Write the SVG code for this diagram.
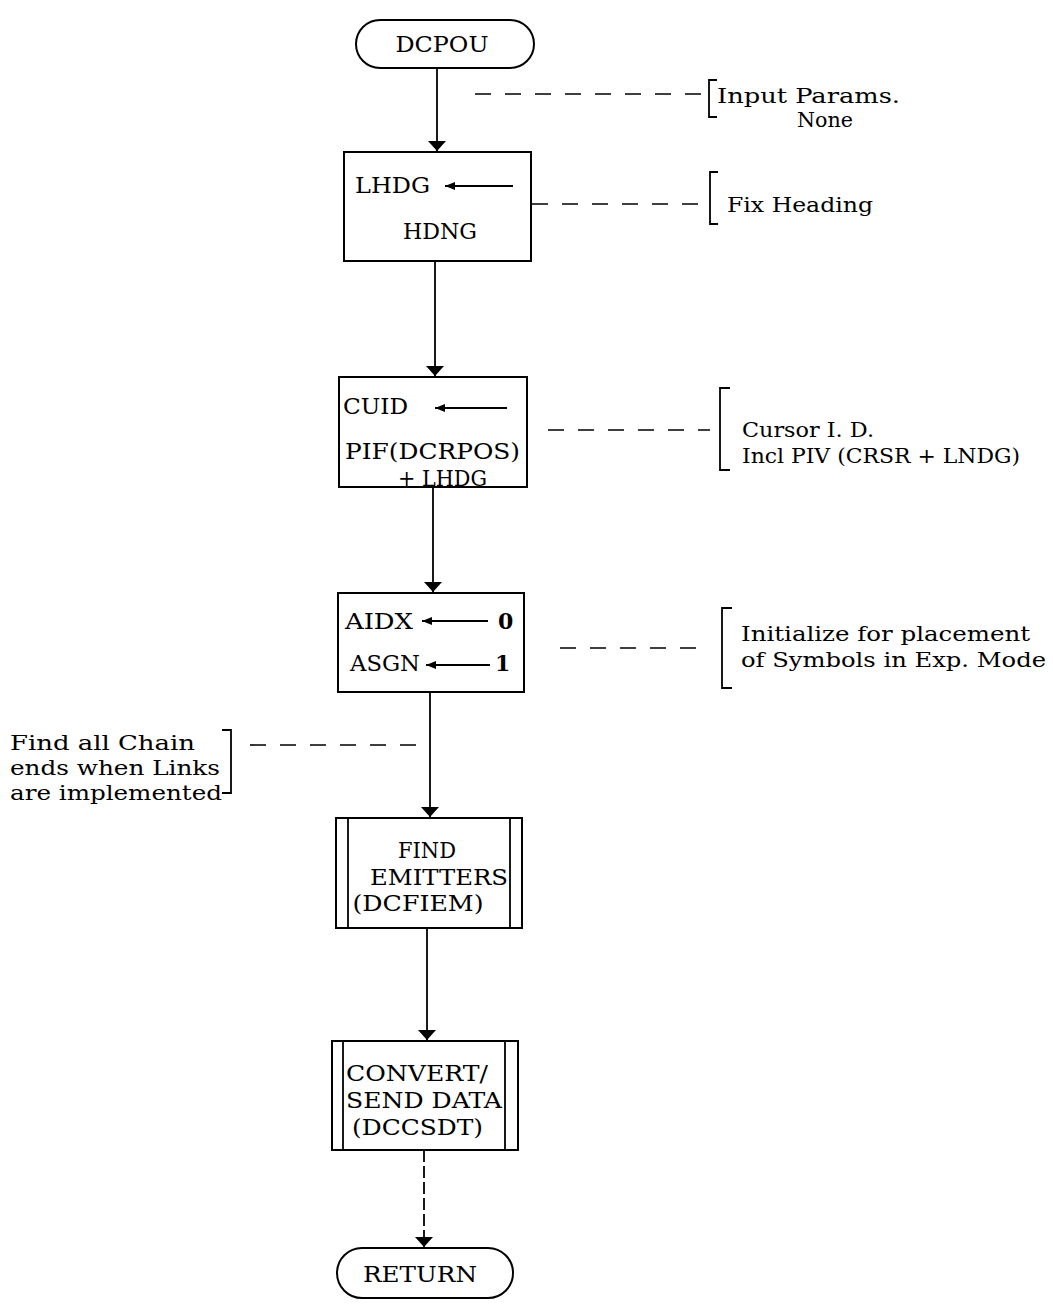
<svg xmlns="http://www.w3.org/2000/svg" width="1053" height="1308" viewBox="0 0 1053 1308">
<defs>
<marker id="ah" viewBox="0 0 10 18" refX="10" refY="9" markerWidth="10" markerHeight="18" markerUnits="userSpaceOnUse" orient="auto">
<path d="M0,0 L10,9 L0,18 Z" fill="#000"/>
</marker>
<marker id="sa" viewBox="0 0 10 8" refX="10" refY="4" markerWidth="10" markerHeight="8" markerUnits="userSpaceOnUse" orient="auto">
<path d="M0,0 L10,4 L0,8 Z" fill="#000"/>
</marker>
</defs>
<style>
.bx{fill:#fff;stroke:#000;stroke-width:2}
.ln{fill:none;stroke:#000;stroke-width:1.8}
.ds{fill:none;stroke:#000;stroke-width:1.6;stroke-dasharray:16,14}
.br{fill:none;stroke:#000;stroke-width:1.8}
text{font-family:"DejaVu Serif","Liberation Serif",serif;font-size:22px;fill:#000}
.a{font-size:21px}
.c{text-anchor:middle}
.b{font-weight:bold}
</style>
<rect width="1053" height="1308" fill="#fff"/>
<g id="connectors">
<line class="ln" x1="437" y1="68" x2="437" y2="151" marker-end="url(#ah)"/>
<line class="ln" x1="435" y1="261" x2="435" y2="376" marker-end="url(#ah)"/>
<line class="ln" x1="433" y1="487" x2="433" y2="592" marker-end="url(#ah)"/>
<line class="ln" x1="430" y1="692" x2="430" y2="817" marker-end="url(#ah)"/>
<line class="ln" x1="427" y1="928" x2="427" y2="1040" marker-end="url(#ah)"/>
<line class="ln" x1="424" y1="1150" x2="424" y2="1247" stroke-dasharray="12,4" marker-end="url(#ah)"/>
<line class="ds" x1="475" y1="94" x2="704" y2="94"/>
<line class="ds" x1="532" y1="204" x2="704" y2="204"/>
<line class="ds" x1="548" y1="430" x2="710" y2="430"/>
<line class="ds" x1="560" y1="648" x2="700" y2="648"/>
<line class="ds" x1="250" y1="745" x2="428" y2="745"/>
</g>
<g id="n-dcpou">
<rect class="bx" x="356" y="20" width="178" height="48" rx="24"/>
<text class="c" x="442" y="52" textLength="93" lengthAdjust="spacingAndGlyphs">DCPOU</text>
</g>
<g id="n-lhdg">
<rect class="bx" x="344" y="152" width="187" height="109"/>
<text x="355" y="193" textLength="75" lengthAdjust="spacingAndGlyphs">LHDG</text>
<line class="ln" x1="513" y1="186" x2="445" y2="186" marker-end="url(#sa)"/>
<text x="403" y="239" textLength="74" lengthAdjust="spacingAndGlyphs">HDNG</text>
</g>
<g id="n-cuid">
<rect class="bx" x="339" y="377" width="188" height="110"/>
<text x="343" y="414" textLength="65" lengthAdjust="spacingAndGlyphs">CUID</text>
<line class="ln" x1="507" y1="408" x2="435" y2="408" marker-end="url(#sa)"/>
<text x="345" y="459" textLength="175" lengthAdjust="spacingAndGlyphs">PIF(DCRPOS)</text>
<text x="398" y="486" textLength="89" lengthAdjust="spacingAndGlyphs">+ LHDG</text>
</g>
<g id="n-aidx">
<rect class="bx" x="338" y="593" width="186" height="99"/>
<text x="345" y="629" textLength="68" lengthAdjust="spacingAndGlyphs">AIDX</text>
<line class="ln" x1="488" y1="621" x2="422" y2="621" marker-end="url(#sa)"/>
<text class="b" x="498" y="629">0</text>
<text x="350" y="671" textLength="70" lengthAdjust="spacingAndGlyphs">ASGN</text>
<line class="ln" x1="490" y1="665" x2="426" y2="665" marker-end="url(#sa)"/>
<text class="b" x="495" y="671">1</text>
</g>
<g id="n-find">
<rect class="bx" x="336" y="818" width="186" height="110"/>
<line class="ln" x1="348" y1="818" x2="348" y2="928"/>
<line class="ln" x1="510" y1="818" x2="510" y2="928"/>
<text class="c" x="427" y="858" textLength="58" lengthAdjust="spacingAndGlyphs">FIND</text>
<text class="c" x="439" y="885" textLength="138" lengthAdjust="spacingAndGlyphs">EMITTERS</text>
<text class="c" x="418" y="911" textLength="131" lengthAdjust="spacingAndGlyphs">(DCFIEM)</text>
</g>
<g id="n-convert">
<rect class="bx" x="332" y="1041" width="186" height="109"/>
<line class="ln" x1="343" y1="1041" x2="343" y2="1150"/>
<line class="ln" x1="505" y1="1041" x2="505" y2="1150"/>
<text x="346" y="1081" textLength="142" lengthAdjust="spacingAndGlyphs">CONVERT/</text>
<text x="346" y="1108" textLength="156" lengthAdjust="spacingAndGlyphs">SEND DATA</text>
<text x="352" y="1135" textLength="131" lengthAdjust="spacingAndGlyphs">(DCCSDT)</text>
</g>
<g id="n-return">
<rect class="bx" x="337" y="1248" width="176" height="50" rx="25"/>
<text class="c" x="420" y="1282" textLength="114" lengthAdjust="spacingAndGlyphs">RETURN</text>
</g>
<g id="a-input">
<path class="br" d="M717,80 L709,80 L709,117 L717,117"/>
<text class="a" x="717" y="103" textLength="183" lengthAdjust="spacingAndGlyphs">Input Params.</text>
<text class="a" x="797" y="127" textLength="56" lengthAdjust="spacingAndGlyphs">None</text>
</g>
<g id="a-fix">
<path class="br" d="M718,172 L710,172 L710,224 L718,224"/>
<text class="a" x="727" y="212" textLength="146" lengthAdjust="spacingAndGlyphs">Fix Heading</text>
</g>
<g id="a-cursor">
<path class="br" d="M730,388 L720,388 L720,470 L730,470"/>
<text class="a" x="742" y="437" textLength="132" lengthAdjust="spacingAndGlyphs">Cursor I. D.</text>
<text class="a" x="742" y="463" textLength="278" lengthAdjust="spacingAndGlyphs">Incl PIV (CRSR + LNDG)</text>
</g>
<g id="a-init">
<path class="br" d="M732,608 L722,608 L722,688 L732,688"/>
<text class="a" x="741" y="641" textLength="289" lengthAdjust="spacingAndGlyphs">Initialize for placement</text>
<text class="a" x="741" y="667" textLength="305" lengthAdjust="spacingAndGlyphs">of Symbols in Exp. Mode</text>
</g>
<g id="a-chain">
<path class="br" d="M222,730 L231,730 L231,793 L222,793"/>
<text class="a" x="10" y="750" textLength="185" lengthAdjust="spacingAndGlyphs">Find all Chain</text>
<text class="a" x="10" y="775" textLength="210" lengthAdjust="spacingAndGlyphs">ends when Links</text>
<text class="a" x="10" y="800" textLength="212" lengthAdjust="spacingAndGlyphs">are implemented</text>
</g>
</svg>
